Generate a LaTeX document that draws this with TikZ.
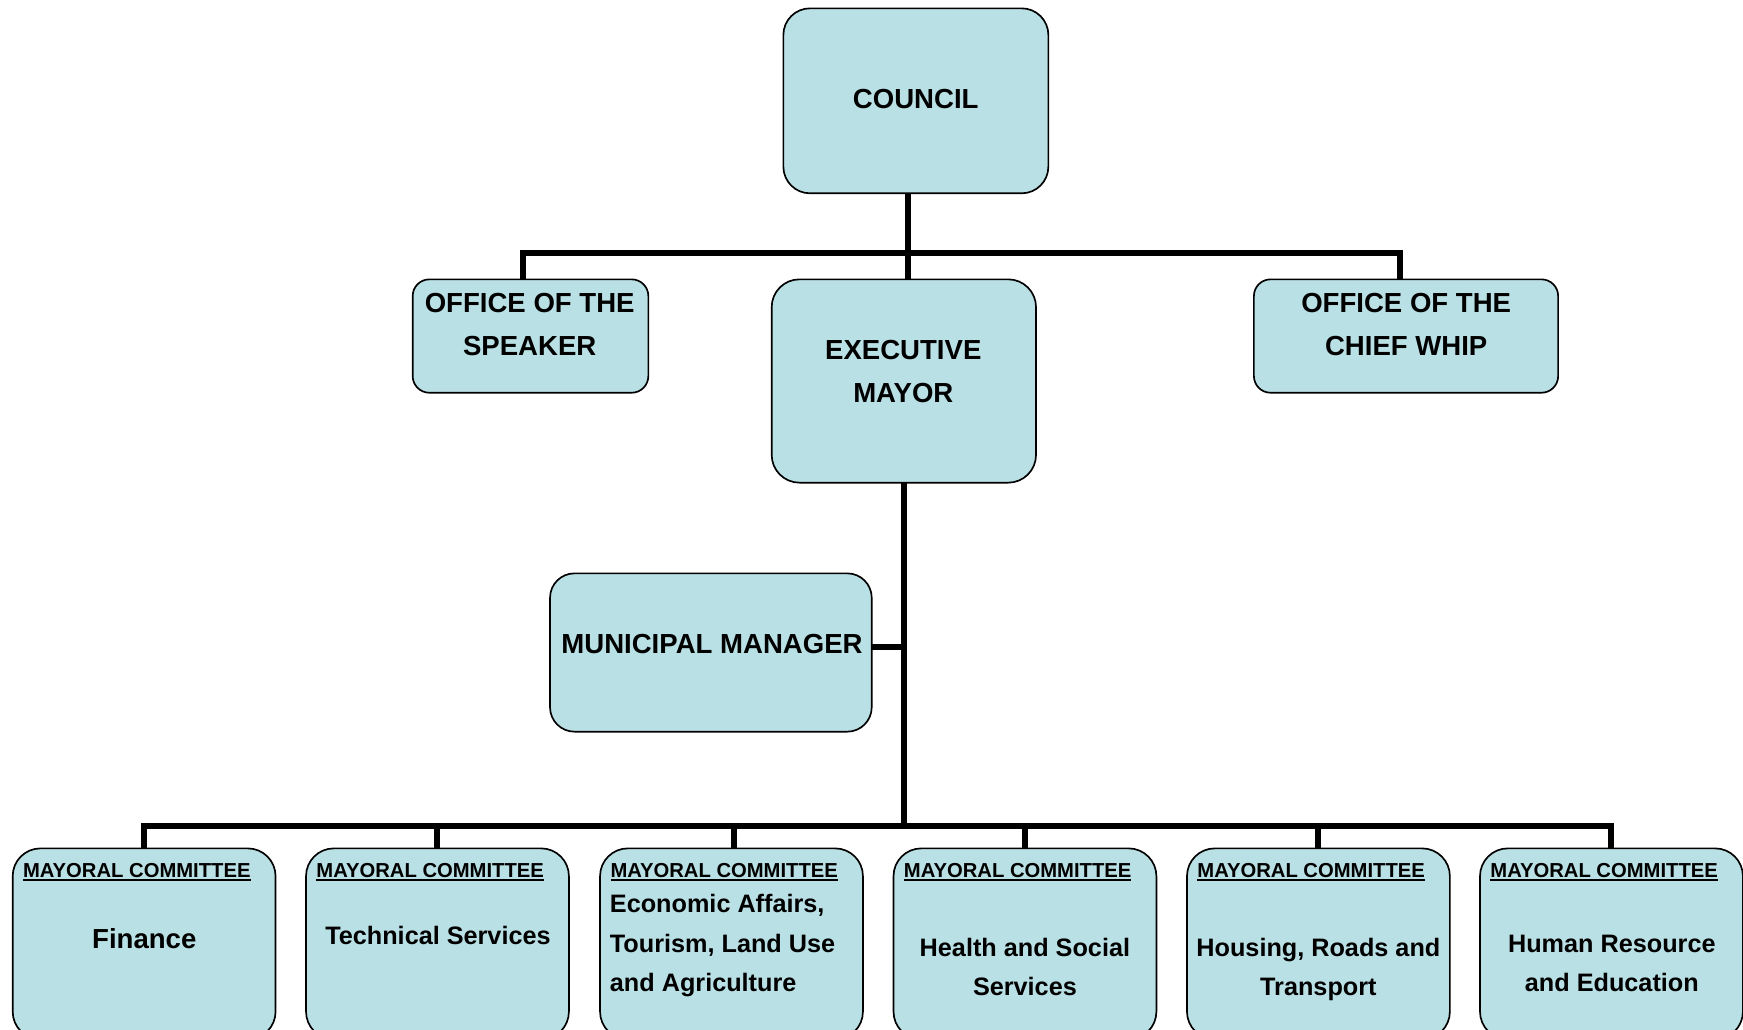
\documentclass[tikz,border=0pt]{standalone}
\usepackage{fontspec}
\setmainfont{Liberation Sans}
\definecolor{boxfill}{RGB}{185,224,228}
% underlined committee heading
\newcommand{\cmtitle}[1]{\setbox0\hbox{#1}\rlap{\rule[-1.6pt]{\wd0}{0.9pt}}\box0}

\begin{document}
\begin{tikzpicture}[x=0.5pt,y=-0.5pt,
  orgbox/.style={draw=black, line width=0.75pt, fill=boxfill, inner sep=0pt, outer sep=0pt},
  cmbox/.style={orgbox, rounded corners=12.5pt, minimum width=118.25pt, minimum height=85.9pt},
  link/.style={draw=black, line width=2.7pt, line join=miter},
  bigtext/.style={font=\fontsize{12.4}{19.3}\selectfont\bfseries, align=center, inner sep=0pt, text depth=0pt},
  midtext/.style={font=\fontsize{11.35}{17.7}\selectfont\bfseries, align=center, inner sep=0pt, text depth=0pt},
  cmhead/.style={font=\fontsize{9.1}{10}\selectfont\bfseries, anchor=west, inner sep=0pt, text depth=0pt}]

\useasboundingbox (0,0) rectangle (1568,926);

% ---- boxes ----
\node[orgbox, rounded corners=12pt, minimum width=119.2pt, minimum height=83.2pt] (council) at (823.9,90.7) {};
\node[orgbox, rounded corners=7.5pt, minimum width=106pt, minimum height=51pt] (speaker) at (477.25,302.3) {};
\node[orgbox, rounded corners=12.5pt, minimum width=118.9pt, minimum height=91.45pt] (exec) at (813.1,342.75) {};
\node[orgbox, rounded corners=7.5pt, minimum width=136.85pt, minimum height=51pt] (whip) at (1264.85,302.3) {};
\node[orgbox, rounded corners=11pt, minimum width=144.7pt, minimum height=71.2pt] (mm) at (639.5,587) {};

\node[cmbox] (c1) at (129.65,849.1) {};
\node[cmbox] (c2) at (393.55,849.1) {};
\node[cmbox] (c3) at (658.05,849.1) {};
\node[cmbox] (c4) at (922.05,849.1) {};
\node[cmbox] (c5) at (1186.05,849.1) {};
\node[cmbox] (c6) at (1449.65,849.1) {};

% ---- texts ----
\node[bigtext] (council-t) at (823.8,88.5) {COUNCIL};
\node[bigtext] (speaker-t) at (476.5,292.1) {OFFICE OF THE\\SPEAKER};
\node[bigtext] (exec-t) at (812.6,334.4) {EXECUTIVE\\MAYOR};
\node[bigtext] (whip-t) at (1265,291.5) {OFFICE OF THE\\CHIEF WHIP};
\node[bigtext] (mm-t) at (640.5,579.5) {MUNICIPAL MANAGER};

\node[cmhead] (h1) at (20.4,782.7) {\cmtitle{MAYORAL COMMITTEE}};
\node[cmhead] (h2) at (284.3,782.7) {\cmtitle{MAYORAL COMMITTEE}};
\node[cmhead] (h3) at (548.8,782.7) {\cmtitle{MAYORAL COMMITTEE}};
\node[cmhead] (h4) at (812.8,782.7) {\cmtitle{MAYORAL COMMITTEE}};
\node[cmhead] (h5) at (1076.8,782.7) {\cmtitle{MAYORAL COMMITTEE}};
\node[cmhead] (h6) at (1340.4,782.7) {\cmtitle{MAYORAL COMMITTEE}};

\node[bigtext] (t1) at (129.8,844.1) {Finance};
\node[midtext] (t2) at (394,841.5) {Technical Services};
\node[midtext, align=left, anchor=west] (t3) at (548.3,848.2) {Economic Affairs,\\Tourism, Land Use\\and Agriculture};
\node[midtext] (t4) at (922,870) {Health and Social\\Services};
\node[midtext] (t5) at (1186,870) {Housing, Roads and\\Transport};
\node[midtext] (t6) at (1450,866.3) {Human Resource\\and Education};

% ---- connectors ----
\coordinate (topbar) at (817,227.9);
\coordinate (botbar) at (813,742.8);

\draw[link] ([xshift=-3.45pt]council.south) -- ([xshift=1.95pt]exec.north);
\draw[link] ([xshift=-3.2pt]speaker.north) |- (topbar) -| ([xshift=-2.7pt]whip.north);

\draw[link] (exec.south) -- (exec.south |- botbar);
\draw[link] ([yshift=2.35pt]mm.east) -- ([yshift=2.35pt]mm.east -| exec.south);

\draw[link] (c1.north) |- (botbar) -| (c6.north);
\draw[link] (c2.north) -- (c2.north |- botbar);
\draw[link] ([xshift=1.25pt]c3.north) -- ([xshift=1.25pt]c3.north |- botbar);
\draw[link] (c4.north) -- (c4.north |- botbar);
\draw[link] (c5.north) -- (c5.north |- botbar);

\end{tikzpicture}
\end{document}
